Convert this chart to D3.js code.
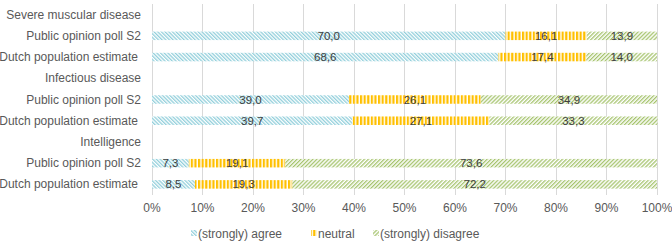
<!DOCTYPE html>
<html>
<head>
<meta charset="utf-8">
<script src="https://cdn.jsdelivr.net/npm/d3@7"></script>
<style>
  body { margin: 0; background: #fff; }
  text { font-family: "Liberation Sans", Arial, sans-serif; fill: #595959; }
</style>
</head>
<body>
<svg id="chart" width="672" height="247"></svg>
<script>
// rows top to bottom; group headings have no bar
const rows = ["Severe muscular disease", "Public opinion poll S2", "Dutch population estimate",
  "Infectious disease", "Public opinion poll S2", "Dutch population estimate",
  "Intelligence", "Public opinion poll S2", "Dutch population estimate"];
const agree    = [null, 70.0, 68.6, null, 39.0, 39.7, null, 7.3, 8.5];
const neutral  = [null, 16.1, 17.4, null, 26.1, 27.1, null, 19.1, 19.3];
const disagree = [null, 13.9, 14.0, null, 34.9, 33.3, null, 73.6, 72.2];
const seriesNames = ["(strongly) agree", "neutral", "(strongly) disagree"];
const xTicks = [0, 10, 20, 30, 40, 50, 60, 70, 80, 90, 100];

const svg = d3.select("#chart");
const plotL = 152, plotR = 657, plotT = 4, plotB = 195;

const x = d3.scaleLinear().domain([0, 100]).range([plotL, plotR]);
const y = d3.scaleBand().domain(d3.range(rows.length)).range([plotT, plotB]);

// hatch patterns
const defs = svg.append("defs");
function hatch(id, color, angle, size, lw) {
  const p = defs.append("pattern")
    .attr("id", id)
    .attr("patternUnits", "userSpaceOnUse")
    .attr("width", size).attr("height", size)
    .attr("patternTransform", `rotate(${angle})`);
  p.append("rect").attr("width", size).attr("height", size).attr("fill", "#fff");
  p.append("rect").attr("width", lw).attr("height", size).attr("fill", color);
}
hatch("p-agree", "#92cfdb", -45, 2.6, 1.3);
hatch("p-neutral", "#ffc000", 0, 3.6, 2.2);
hatch("p-disagree", "#a6c46e", 45, 2.8, 1.3);
const fills = ["url(#p-agree)", "url(#p-neutral)", "url(#p-disagree)"];

// gridlines
svg.append("g").selectAll("line")
  .data(xTicks)
  .join("line")
  .attr("x1", d => x(d)).attr("x2", d => x(d))
  .attr("y1", plotT).attr("y2", plotB)
  .attr("stroke", "#d9d9d9").attr("stroke-width", 1)
  .attr("shape-rendering", "crispEdges");

// x tick labels
svg.append("g").selectAll("text")
  .data(xTicks)
  .join("text")
  .attr("x", d => x(d)).attr("y", 212)
  .attr("text-anchor", "middle")
  .style("font-size", "12px")
  .text(d => d + "%");

// row labels
svg.append("g").selectAll("text")
  .data(rows)
  .join("text")
  .attr("x", (d, i) => i % 3 === 2 ? 138 : 141)
  .attr("y", (d, i) => y(i) + y.bandwidth() / 2 + 4)
  .attr("text-anchor", "end")
  .style("font-size", "12px")
  .text(d => d);

// stacked bars
const fmt = v => v.toFixed(1).replace(".", ",");
const barH = 8.5;
rows.forEach((r, i) => {
  if (agree[i] == null) return;
  const vals = [agree[i], neutral[i], disagree[i]];
  let acc = 0;
  const segs = vals.map((v, k) => { const s = { k, v, x0: acc, x1: acc + v }; acc += v; return s; });
  const g = svg.append("g");
  const cy = y(i) + y.bandwidth() / 2;
  g.selectAll("rect")
    .data(segs)
    .join("rect")
    .attr("x", d => x(d.x0))
    .attr("width", d => x(d.x1) - x(d.x0))
    .attr("y", cy - barH / 2)
    .attr("height", barH)
    .attr("fill", d => fills[d.k]);
  g.selectAll("text")
    .data(segs)
    .join("text")
    .attr("x", d => x((d.x0 + d.x1) / 2))
    .attr("y", cy + 4)
    .attr("text-anchor", "middle")
    .style("font-size", "11.5px")
    .style("fill", "#404040")
    .text(d => fmt(d.v));
});

// legend
const legendX = [191, 311, 373];
const lg = svg.append("g");
seriesNames.forEach((n, k) => {
  lg.append("rect")
    .attr("x", legendX[k]).attr("y", 230)
    .attr("width", 6).attr("height", 6)
    .attr("fill", fills[k]);
  lg.append("text")
    .attr("x", legendX[k] + 7).attr("y", 238)
    .style("font-size", "12px")
    .text(n);
});
</script>
</body>
</html>
